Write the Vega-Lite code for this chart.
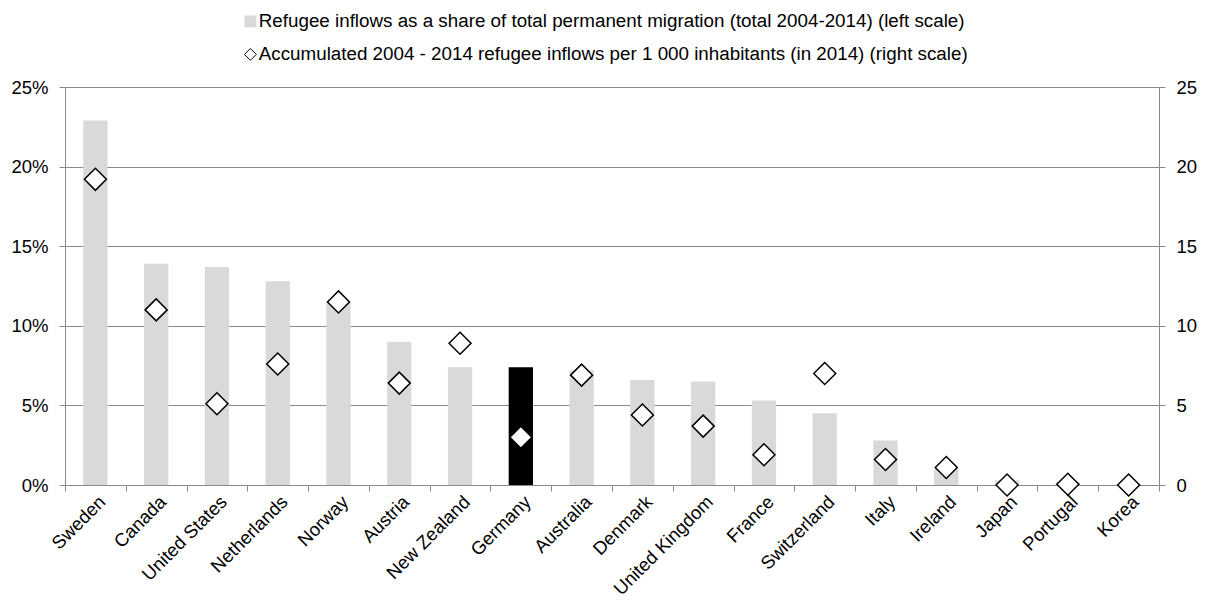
{
  "$schema": "https://vega.github.io/schema/vega-lite/v6.json",
  "width": 1094,
  "height": 398,
  "autosize": {"type": "none"},
  "padding": {"left": 65, "top": 87, "right": 46, "bottom": 115},
  "background": "white",
  "config": {
    "view": {"stroke": null},
    "font": "Liberation Sans",
    "axis": {
      "domainColor": "#898989",
      "tickColor": "#898989",
      "gridColor": "#898989",
      "domainWidth": 1,
      "tickWidth": 1,
      "gridWidth": 1,
      "tickSize": 6,
      "labelColor": "#000000",
      "labelFont": "Liberation Sans",
      "labelFontSize": 18.5,
      "title": null
    }
  },
  "data": {
    "values": [
      {"country": "Sweden", "share": 22.9, "per1000": 19.2},
      {"country": "Canada", "share": 13.9, "per1000": 11.0},
      {"country": "United States", "share": 13.7, "per1000": 5.1},
      {"country": "Netherlands", "share": 12.8, "per1000": 7.6},
      {"country": "Norway", "share": 11.5, "per1000": 11.5},
      {"country": "Austria", "share": 9.0, "per1000": 6.4},
      {"country": "New Zealand", "share": 7.4, "per1000": 8.9},
      {"country": "Germany", "share": 7.4, "per1000": 3.0},
      {"country": "Australia", "share": 7.2, "per1000": 6.9},
      {"country": "Denmark", "share": 6.6, "per1000": 4.4},
      {"country": "United Kingdom", "share": 6.5, "per1000": 3.7},
      {"country": "France", "share": 5.3, "per1000": 1.9},
      {"country": "Switzerland", "share": 4.5, "per1000": 7.0},
      {"country": "Italy", "share": 2.8, "per1000": 1.6},
      {"country": "Ireland", "share": 1.0, "per1000": 1.1},
      {"country": "Japan", "share": 0.3, "per1000": 0.0},
      {"country": "Portugal", "share": 0.2, "per1000": 0.05},
      {"country": "Korea", "share": 0.05, "per1000": 0.0}
    ]
  },
  "encoding": {
    "x": {
      "field": "country",
      "type": "nominal",
      "sort": null,
      "scale": {"paddingInner": 0, "paddingOuter": 0},
      "axis": {
        "labelAngle": -45,
        "tickBand": "extent",
        "labelPadding": 1,
        "labelLimit": 300,
        "grid": false
      }
    }
  },
  "layer": [
    {
      "mark": {"type": "bar", "width": {"band": 0.4}},
      "encoding": {
        "y": {
          "field": "share",
          "type": "quantitative",
          "scale": {"domain": [0, 25], "nice": false},
          "axis": {
            "orient": "left",
            "values": [0, 5, 10, 15, 20, 25],
            "labelExpr": "datum.value + '%'",
            "grid": true,
            "labelPadding": 11
          }
        },
        "fill": {
          "condition": {"test": "datum.country === 'Germany'", "value": "#000000"},
          "datum": "Refugee inflows as a share of total permanent migration (total 2004-2014) (left scale)",
          "scale": {
            "domain": [
              "Refugee inflows as a share of total permanent migration (total 2004-2014) (left scale)",
              "Accumulated 2004 - 2014 refugee inflows per 1 000 inhabitants (in 2014) (right scale)"
            ],
            "range": ["#d9d9d9", "#ffffff"]
          },
          "legend": {
            "title": null,
            "orient": "none",
            "legendX": 176,
            "legendY": -75,
            "direction": "vertical",
            "labelFontSize": 18.8,
            "labelColor": "#000000",
            "labelLimit": 1000,
            "labelOffset": -1,
            "symbolSize": 140,
            "symbolStrokeWidth": 1,
            "rowPadding": 13
          }
        }
      }
    },
    {
      "mark": {"type": "point", "filled": true, "opacity": 1, "size": 484, "strokeWidth": 1.5},
      "encoding": {
        "y": {
          "field": "per1000",
          "type": "quantitative",
          "scale": {"domain": [0, 25], "nice": false},
          "axis": {
            "orient": "right",
            "values": [0, 5, 10, 15, 20, 25],
            "grid": false,
            "labelPadding": 11
          }
        },
        "fill": {
          "datum": "Accumulated 2004 - 2014 refugee inflows per 1 000 inhabitants (in 2014) (right scale)",
          "legend": {
            "title": null,
            "orient": "none",
            "legendX": 176,
            "legendY": -75,
            "direction": "vertical",
            "labelFontSize": 18.8,
            "labelColor": "#000000",
            "labelLimit": 1000,
            "labelOffset": -1,
            "symbolSize": 140,
            "symbolStrokeWidth": 1,
            "rowPadding": 13
          }
        },
        "shape": {
          "datum": "Accumulated 2004 - 2014 refugee inflows per 1 000 inhabitants (in 2014) (right scale)",
          "scale": {
            "domain": [
              "Refugee inflows as a share of total permanent migration (total 2004-2014) (left scale)",
              "Accumulated 2004 - 2014 refugee inflows per 1 000 inhabitants (in 2014) (right scale)"
            ],
            "range": ["square", "diamond"]
          },
          "legend": {
            "title": null,
            "orient": "none",
            "legendX": 176,
            "legendY": -75,
            "direction": "vertical",
            "labelFontSize": 18.8,
            "labelColor": "#000000",
            "labelLimit": 1000,
            "labelOffset": -1,
            "symbolSize": 140,
            "symbolStrokeWidth": 1,
            "rowPadding": 13
          }
        },
        "stroke": {
          "datum": "Accumulated 2004 - 2014 refugee inflows per 1 000 inhabitants (in 2014) (right scale)",
          "scale": {
            "domain": [
              "Refugee inflows as a share of total permanent migration (total 2004-2014) (left scale)",
              "Accumulated 2004 - 2014 refugee inflows per 1 000 inhabitants (in 2014) (right scale)"
            ],
            "range": ["transparent", "#000000"]
          },
          "legend": {
            "title": null,
            "orient": "none",
            "legendX": 176,
            "legendY": -75,
            "direction": "vertical",
            "labelFontSize": 18.8,
            "labelColor": "#000000",
            "labelLimit": 1000,
            "labelOffset": -1,
            "symbolSize": 140,
            "symbolStrokeWidth": 1,
            "rowPadding": 13
          }
        }
      }
    }
  ],
  "resolve": {"scale": {"y": "independent"}}
}
